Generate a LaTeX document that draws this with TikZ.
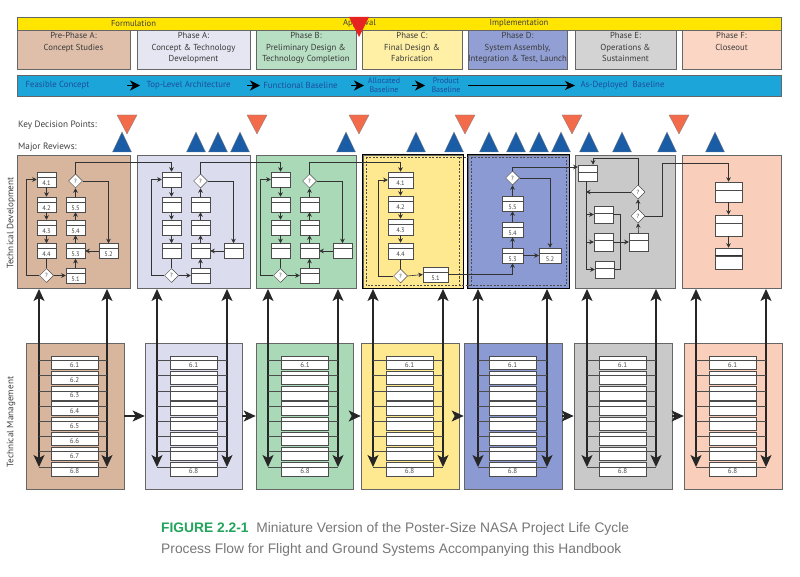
\documentclass[tikz,border=0pt]{standalone}
\usepackage{fontspec}
\setmainfont{PT Sans}
\newfontfamily\capfont{Liberation Sans}
\usetikzlibrary{arrows.meta,shapes.geometric}
\definecolor{c1}{HTML}{D8B59D}
\definecolor{c2}{HTML}{DCDCEF}
\definecolor{c3}{HTML}{A9D9B6}
\definecolor{c4}{HTML}{FFE990}
\definecolor{c5}{HTML}{8B9AD2}
\definecolor{c6}{HTML}{C9C9C9}
\definecolor{c7}{HTML}{F9CFBB}
\definecolor{p1}{HTML}{DFBFAA}
\definecolor{p2}{HTML}{E6E6F3}
\definecolor{p3}{HTML}{B8DFC4}
\definecolor{p4}{HTML}{FFF0A5}
\definecolor{p5}{HTML}{919FD4}
\definecolor{p6}{HTML}{D3D3D3}
\definecolor{p7}{HTML}{FCD6C4}
\definecolor{baryel}{HTML}{FFE500}
\definecolor{barblue}{HTML}{1BA5D8}
\definecolor{bartext}{HTML}{1E4D9B}
\definecolor{kdpred}{HTML}{F26B4A}
\definecolor{mrblue}{HTML}{1A5DA6}
\definecolor{aprred}{HTML}{E52421}
\definecolor{capgreen}{HTML}{22A45D}
\definecolor{capgray}{HTML}{777777}
\definecolor{txt}{HTML}{3A3A3A}
\newcommand{\showlbl}[1]{#1}
\newcommand{\hidelbl}[1]{}
\tikzset{
  pnl/.style={draw=black!60, line width=0.6pt, inner sep=0pt},
  tb/.style={draw=black!70, fill=white, line width=0.5pt, minimum width=19pt,
    minimum height=15pt, inner sep=0pt, font=\fontsize{6.5}{7}\selectfont,
    text=black!75, text height=12pt, text depth=0pt,
    path picture={\draw[black!70,line width=0.5pt]
      ([yshift=-#1]path picture bounding box.north west) --
      ([yshift=-#1]path picture bounding box.north east);}},
  tb/.default=5pt,
  dia/.style={diamond, draw=black!70, fill=white, line width=0.5pt, inner sep=0pt,
    minimum width=14pt, minimum height=14pt, font=\fontsize{6}{6}\selectfont, text=black!75},
  mb/.style={draw=black!70, fill=white, line width=0.5pt, minimum width=47pt,
    minimum height=13.5pt, inner sep=0pt, font=\fontsize{7}{7}\selectfont,
    text=black!70, text height=9.4pt, text depth=0pt,
    path picture={\draw[black!70,line width=0.5pt]
      ([yshift=-4.5pt]path picture bounding box.north west) --
      ([yshift=-4.5pt]path picture bounding box.north east);}},
  ar/.style={draw=black!80, line width=0.6pt, -{Stealth[length=4.5pt,width=4.5pt]}},
  ln/.style={draw=black!80, line width=0.6pt},
  rung/.style={draw=black!70, line width=0.5pt},
  varr/.style={draw=black!85, line width=1.1pt,
    {Stealth[length=12pt,width=11pt,inset=3pt]}-{Stealth[length=12pt,width=11pt,inset=3pt]}},
  harr/.style={draw=black!85, line width=1.1pt, -{Stealth[length=12pt,width=11pt,inset=3pt]}},
  barr/.style={draw=black, line width=1.2pt, -{Stealth[length=10pt,width=10pt,inset=3pt]}},
  phtxt/.style={font=\fontsize{8.7}{11.5}\selectfont, text=txt, align=center, anchor=north, inner sep=0pt},
  bartxt/.style={font=\fontsize{8.8}{9}\selectfont, text=bartext, align=center, inner sep=0pt},
  toptxt/.style={font=\fontsize{8.6}{9}\selectfont, text=black!75, inner sep=0pt},
  lbltxt/.style={font=\fontsize{9.2}{10}\selectfont, text=black!75, inner sep=0pt},
  kdp/.style={fill=kdpred, draw=black!50, line width=0.3pt},
  mr/.style={fill=mrblue, draw=black!50, line width=0.3pt},
  dsh/.style={draw=black!70, line width=0.5pt, dash pattern=on 2pt off 1.5pt}
}
\newcommand{\tdgroup}[3]{%
\begin{scope}[xshift=#2pt]
\node[tb] (#1a1) at (46.5,179.5) {#3{4.1}};
\node[tb] (#1a2) at (46.5,204.5) {#3{4.2}};
\node[tb] (#1a3) at (46.5,227.5) {#3{4.3}};
\node[tb] (#1a4) at (46.5,251) {#3{4.4}};
\node[dia] (#1db) at (46.5,275.5) {?};
\node[tb] (#1b1) at (75.5,275.5) {#3{5.1}};
\node[tb] (#1b3) at (75.5,251) {#3{5.3}};
\node[tb] (#1b4) at (75.5,227.5) {#3{5.4}};
\node[tb] (#1b5) at (75.5,204.5) {#3{5.5}};
\node[dia] (#1dt) at (75.5,181) {?};
\node[tb] (#1b2) at (108.5,251) {#3{5.2}};
\draw[ar] (#1a1.south) -- (#1a2.north);
\draw[ar] (#1a2.south) -- (#1a3.north);
\draw[ar] (#1a3.south) -- (#1a4.north);
\draw[ln] (#1a4.south) -- (#1db.north);
\draw[ar] (#1db.west) -- ++(-12.5,0) |- (#1a1.west);
\draw[ar] (#1db.east) -- (#1b1.west);
\draw[ar] (#1b1.north) -- (#1b3.south);
\draw[ar] (#1b3.north) -- (#1b4.south);
\draw[ar] (#1b4.north) -- (#1b5.south);
\draw[ar] (#1b5.north) -- (#1dt.south);
\draw[ar] (#1dt.east) -| (#1b2.north);
\draw[ar] (#1b2.west) -- (#1b3.east);
\end{scope}}
\begin{document}
\begin{tikzpicture}[x=1pt,y=-1pt]
\useasboundingbox (0,0) rectangle (800,577);
\fill[white] (0,0) rectangle (800,577);
% ---- top bar
\node[pnl, fill=baryel, minimum width=764, minimum height=13] (topbar) at (399,23.5) {};
\node[toptxt] (tform) at (133.5,23.5) {Formulation};
\node[toptxt] (tappr) at (359.5,23.5) {Approval};
\node[toptxt] (timpl) at (519,23.5) {Implementation};
% ---- phase boxes
\foreach \i/\xl/\xr in {1/17/130, 2/137/250, 3/256/356, 4/362/462, 5/468/567, 6/575/676, 7/682/781}{
  \node[pnl, fill=p\i, minimum width={\xr-\xl}, minimum height=39] (ph\i) at ({(\xl+\xr)/2},49.5) {};
}
\node[phtxt] (ph1t) at (ph1.north |- 0,32.5) {Pre-Phase A:\\Concept Studies};
\node[phtxt] (ph2t) at (ph2.north |- 0,32.5) {Phase A:\\Concept \& Technology\\Development};
\node[phtxt] (ph3t) at (ph3.north |- 0,32.5) {Phase B:\\Preliminary Design \&\\Technology Completion};
\node[phtxt] (ph4t) at (ph4.north |- 0,32.5) {Phase C:\\Final Design \&\\Fabrication};
\node[phtxt] (ph5t) at (ph5.north |- 0,32.5) {Phase D:\\System Assembly,\\Integration \& Test, Launch};
\node[phtxt] (ph6t) at (ph6.north |- 0,32.5) {Phase E:\\Operations \&\\Sustainment};
\node[phtxt] (ph7t) at (ph7.north |- 0,32.5) {Phase F:\\Closeout};
\fill[aprred] (349,17) -- (369,17) -- (359,37) -- cycle;
% ---- baseline bar
\node[pnl, fill=barblue, minimum width=764, minimum height=21] (bar) at (399,85.5) {};
\node[bartxt] (b1) at (57.5,85.5) {Feasible Concept};
\node[bartxt] (b2) at (188.5,85.5) {Top-Level Architecture};
\node[bartxt] (b3) at (300.5,85.5) {Functional Baseline};
\node[bartxt, font=\fontsize{8}{8.7}\selectfont] (b4) at (384,85.5) {Allocated\\Baseline};
\node[bartxt, font=\fontsize{8}{8.7}\selectfont] (b5) at (446,85.5) {Product\\Baseline};
\node[bartxt] (b6) at (622.5,85.5) {As-Deployed\ \ Baseline};
\draw[barr] (127,85.5) -- (140,85.5);
\draw[barr] (247,85.5) -- (260,85.5);
\draw[barr] (351,85.5) -- (364,85.5);
\draw[barr] (412,85.5) -- (425,85.5);
\draw[draw=black, line width=0.6pt, -{Stealth[length=10pt,width=9pt,inset=3pt]}] (468,85.5) -- (575,85.5);
% ---- KDP / reviews
\node[lbltxt, anchor=west] (kdplab) at (18,125) {Key Decision Points:};
\node[lbltxt, anchor=west] (mrlab) at (18,147) {Major Reviews:};
\foreach \x in {122,196,218,240,346,416,454,489,516,539,561,589,622,667,715}
  \draw[mr] (\x-9.5,152) -- (\x+9.5,152) -- (\x,132) -- cycle;
\foreach \x in {127,257,359,465,572,679}
  \draw[kdp] (\x-10,115) -- (\x+10,115) -- (\x,134) -- cycle;
% ---- side labels
\node[lbltxt, rotate=90] (tdlab) at (11,223) {Technical Development};
\node[lbltxt, rotate=90] (tmlab) at (11,422) {Technical Management};
% ---- TD panels
\foreach \i/\xl/\xr in {1/17/130, 2/137/250, 3/256/356, 4/363/463, 5/468/569, 6/575/675, 7/682/781}{
  \node[pnl, fill=c\i, minimum width={\xr-\xl}, minimum height=133] (td\i) at ({(\xl+\xr)/2},221.5) {};
}
\draw[black, line width=1.4pt] (td4.south west) rectangle (td4.north east);
\draw[black, line width=1.4pt] (td5.south west) rectangle (td5.north east);
\draw[dsh] (366,157.5) rectangle (566,285.5);
\draw[dsh] (459.5,157.5) -- (459.5,285.5);
\draw[dsh] (471.5,157.5) -- (471.5,285.5);
\coordinate (lvlA) at (0,162);
% panels 1-3
\tdgroup{p}{0}{\showlbl}
\tdgroup{q}{125}{\hidelbl}
\tdgroup{r}{234}{\hidelbl}
\draw[ar] (pdt.north) -- (pdt.north |- lvlA) -| (qa1.north);
\draw[ar] (qdt.north) -- (qdt.north |- lvlA) -| (ra1.north);
% panel 4
\node[tb, minimum width=25pt, minimum height=16pt] (ya1) at (400.5,180) {4.1};
\node[tb, minimum width=25pt, minimum height=16pt] (ya2) at (400.5,204) {4.2};
\node[tb, minimum width=25pt, minimum height=16pt] (ya3) at (400.5,227) {4.3};
\node[tb, minimum width=25pt, minimum height=16pt] (ya4) at (400.5,251) {4.4};
\node[dia] (ydb) at (400.5,276) {?};
\node[tb, minimum width=25pt] (yb1) at (435.5,274.5) {5.1};
\draw[ar] (rdt.north) -- (rdt.north |- lvlA) -| (ya1.north);
\draw[ar] (ya1.south) -- (ya2.north);
\draw[ar] (ya2.south) -- (ya3.north);
\draw[ar] (ya3.south) -- (ya4.north);
\draw[ln] (ya4.south) -- (ydb.north);
\draw[ar] (ydb.west) -- ++(-14.5,0) |- (ya1.west);
\draw[ar] (ydb.east) -- (yb1.west);
% panel 5
\node[tb, minimum width=21pt] (zb3) at (512.5,255.5) {5.3};
\node[tb, minimum width=21pt] (zb4) at (512.5,229.5) {5.4};
\node[tb, minimum width=21pt] (zb5) at (512.5,203.5) {5.5};
\node[dia] (zdt) at (512.5,178) {?};
\node[tb, minimum width=22pt] (zb2) at (550,255.5) {5.2};
\draw[ar] (yb1.east) -| (zb3.south);
\draw[ar] (zb3.north) -- (zb4.south);
\draw[ar] (zb4.north) -- (zb5.south);
\draw[ar] (zb5.north) -- (zdt.south);
\draw[ar] (zb3.east) -- (zb2.west);
\draw[ar] (zdt.east) -| (zb2.north);
% panel 6
\node[tb=7pt, minimum height=16pt] (eA) at (587.5,173) {};
\node[tb=7pt, minimum height=17pt] (eB) at (603.5,214.5) {};
\node[tb=7pt, minimum height=18pt] (eC) at (603.5,242) {};
\node[tb=7pt, minimum height=17pt] (eD) at (604.5,269.5) {};
\node[tb=7pt, minimum height=18pt] (eE) at (638.5,242) {};
\node[dia] (ed2) at (638,216) {?};
\node[dia] (ed1) at (638,192) {?};
\draw[ar] (zdt.north) |- ([yshift=6pt]eA.west);
\coordinate (etr) at (586,269.5);
\coordinate (ej) at (620,242);
\coordinate (e6top) at (593,158);
\coordinate (e7a) at (662,163);
\draw[ar] (eA.south -| etr) |- (eD.west);
\draw[ar] (eB.west -| etr) -- (eB.west);
\draw[ar] (eC.west -| etr) -- (eC.west);
\draw[ln] (eB.east) -| (ej);
\draw[ln] (eD.east) -| (ej);
\draw[ar] (eC.east) -- (eE.west);
\draw[ar] (eE.north) -- (ed2.south);
\draw[ar] (ed2.north) -- (ed1.south);
\draw[ar] (ed1.west) -- (ed1.west -| etr);
\draw[ar] (ed1.north) |- (e6top) -- (e6top |- eA.north);
% panel 7
\node[tb=8pt, minimum width=27pt, minimum height=20pt] (fA) at (728.5,192) {};
\node[tb=8pt, minimum width=27pt, minimum height=21pt] (fB) at (728.5,225.5) {};
\node[tb=8pt, minimum width=27pt, minimum height=21pt] (fC) at (728.5,258.5) {};
\draw[black!80, line width=1pt] ([yshift=-8pt]fC.north west) -- ([yshift=-8pt]fC.north east);
\draw[ar] (ed2.east) -| (e7a) -| (fA.north);
\draw[ar] (fA.south) -- (fB.north);
\draw[ar] (fB.south) -- (fC.north);
% ---- TM panels
\foreach \i/\xl/\xr/\cx/\xa/\xb in {1/26/124/74.5/39/107, 2/145/242/193.5/157/227, 3/256/353/305/268/338, 4/361/459/409.5/373/443, 5/464/562/512.5/478/547, 6/574/672/622.5/587/656, 7/684/782/732.5/696/766}{
  \node[pnl, fill=c\i, minimum width={\xr-\xl}, minimum height=146] (tm\i) at ({(\xl+\xr)/2},416) {};
  \coordinate (tdl\i) at (\xa,289);
  \coordinate (tml\i) at (\xa,467);
  \coordinate (tdr\i) at (\xb,289);
  \coordinate (tmr\i) at (\xb,467);
  \draw[varr] (tml\i) -- (tdl\i);
  \draw[varr] (tmr\i) -- (tdr\i);
  \foreach \k in {0,...,7}{
    \pgfmathsetmacro\yy{362.75+15.2*\k}
    \pgfmathtruncatemacro\lab{\k+1}
    \node[mb] (m\i r\k) at (\cx,\yy) {\ifnum\i=1 6.\lab\else\ifnum\k=0 6.1\else\ifnum\k=7 6.8\fi\fi\fi};
    \draw[rung] ([yshift=2.25pt]m\i r\k.west) -- ++({\xa-\cx+23.5},0);
    \draw[rung] ([yshift=2.25pt]m\i r\k.east) -- ++({\xb-\cx-23.5},0);
  }
}
\foreach \i/\j in {1/2,2/3,3/4,4/5,5/6,6/7}
  \draw[harr] (tm\i.east) -- (tm\j.west);
% ---- caption
\node[anchor=base west, inner sep=0pt, font=\capfont\fontsize{13.8}{16}\selectfont, text=capgray] (cap1) at (161,532)
  {\textcolor{capgreen}{\bfseries FIGURE 2.2-1}\ \ Miniature Version of the Poster-Size NASA Project Life Cycle};
\node[anchor=base west, inner sep=0pt, font=\capfont\fontsize{13.8}{16}\selectfont, text=capgray] (cap2) at (161,553)
  {Process Flow for Flight and Ground Systems Accompanying this Handbook};
\end{tikzpicture}
\end{document}
